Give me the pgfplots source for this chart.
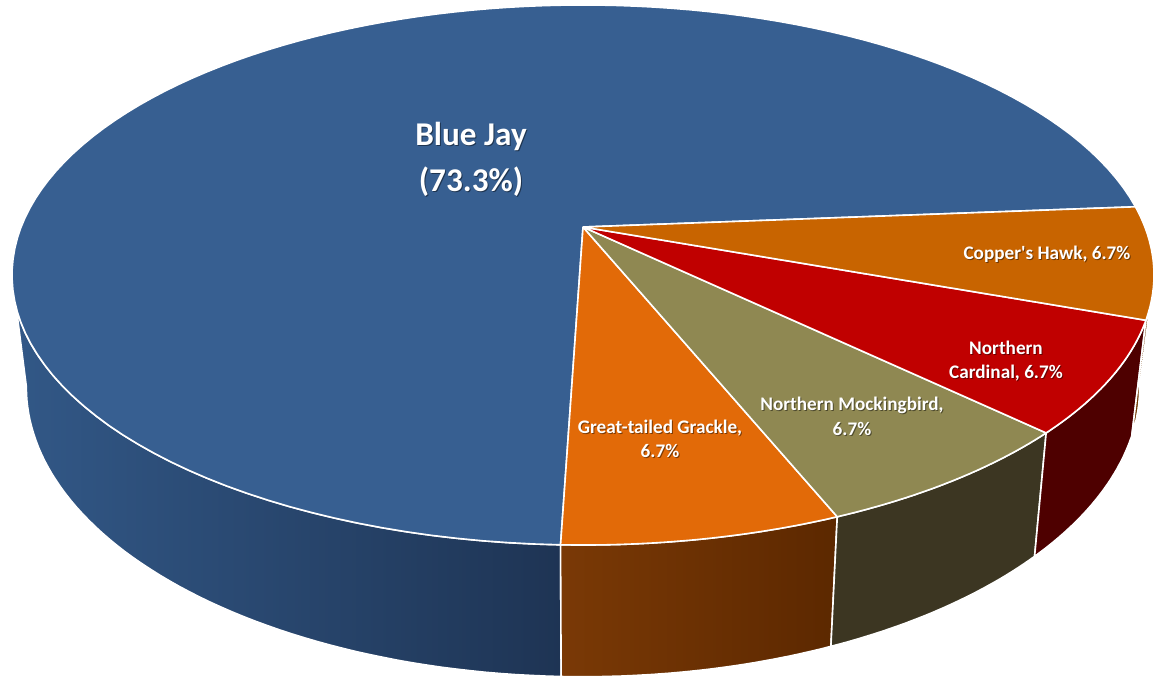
\documentclass[border=0pt]{standalone}
\usepackage{pgfplots}
\pgfplotsset{compat=1.18}
\usepackage{pgfplotstable}
\usepackage{fontspec}
\setmainfont{Carlito}

\pgfplotstableread{
species value
BlueJay 73.3
GreatTailedGrackle 6.7
NorthernMockingbird 6.7
NorthernCardinal 6.7
CoppersHawk 6.7
}\piedata

\pgfplotstablegetelem{0}{value}\of\piedata\let\vBJ\pgfplotsretval
\pgfplotstablegetelem{1}{value}\of\piedata\let\vGr\pgfplotsretval
\pgfplotstablegetelem{2}{value}\of\piedata\let\vMo\pgfplotsretval
\pgfplotstablegetelem{3}{value}\of\piedata\let\vCa\pgfplotsretval
\pgfplotstablegetelem{4}{value}\of\piedata\let\vCo\pgfplotsretval

\pgfmathsetmacro\T{\vBJ+\vGr+\vMo+\vCa+\vCo}
\pgfmathsetmacro\aS{4.5}
\pgfmathsetmacro\aCo{\aS-360*\vCo/\T}
\pgfmathsetmacro\aCa{\aCo-360*\vCa/\T}
\pgfmathsetmacro\aMo{\aCa-360*\vMo/\T}
\pgfmathsetmacro\aGr{\aMo-360*\vGr/\T}
\pgfmathsetmacro\aEnd{\aS-360}

\definecolor{bjTop}{RGB}{55,95,145}
\definecolor{coTop}{RGB}{200,100,0}
\definecolor{caTop}{RGB}{192,0,0}
\definecolor{moTop}{RGB}{143,136,82}
\definecolor{grTop}{RGB}{226,106,8}
\definecolor{bjSideL}{RGB}{50,88,135}
\definecolor{bjSideR}{RGB}{30,52,84}
\definecolor{grSideL}{RGB}{122,57,6}
\definecolor{grSideR}{RGB}{92,40,0}
\definecolor{moSide}{RGB}{60,54,34}
\definecolor{caSide}{RGB}{78,0,0}
\definecolor{coSide}{RGB}{110,55,0}

% top face of a slice: colour, start angle, end angle
\newcommand\topslice[3]{%
 \addplot[fill=#1, draw=white, line width=0.8pt, line join=round, variable=\t,
   samples at={-1,0,1,...,120,121}]
 ({(\t<-0.5 || \t>120.5) ? 583 : PX(#2+(#3-#2)*\t/120)},
  {(\t<-0.5 || \t>120.5) ? 227 : PY(#2+(#3-#2)*\t/120)});
}
% side face of a slice: left colour, right colour, start angle, end angle
\newcommand\sideface[4]{%
 \addplot[left color=#1, right color=#2, draw=white, line width=0.8pt, line join=round, variable=\t,
   samples at={0,1,...,60,100,101,...,160,200}]
 ({(\t<80 || \t>180) ? PX((\t<80) ? (#3+(#4-#3)*\t/60) : #3) : BX(#4+(#3-#4)*(\t-100)/60)},
  {(\t<80 || \t>180) ? PY((\t<80) ? (#3+(#4-#3)*\t/60) : #3) : BY(#4+(#3-#4)*(\t-100)/60)});
}
\newcommand\lbl[4]{%
 \node[font=\fontsize{#3}{#3}\selectfont\bfseries, text=black, opacity=0.45, xshift=0.5pt, yshift=-0.5pt] at (axis cs:#1,#2) {#4};
 \node[font=\fontsize{#3}{#3}\selectfont\bfseries, text=white] at (axis cs:#1,#2) {#4};
}

\begin{document}
\begin{tikzpicture}
\begin{axis}[
  width=577.5pt, height=338.5pt, scale only axis,
  xmin=0, xmax=1155, ymin=0, ymax=677, y dir=reverse,
  axis lines=none, clip=false,
  declare function={
    sA(\x)=1/(1+0.1777*sin(\x));
    PX(\x)=583+561.9*cos(\x)*sA(\x);
    PY(\x)=227-261.5*sin(\x)*sA(\x);
    BX(\x)=583+0.975*561.9*cos(\x)*sA(\x);
    BY(\x)=PY(\x)+108.3*sA(\x);
  },
]
\addplot[draw=none] coordinates {(0,0) (1155,677)};
% sides
\sideface{bjSideL}{bjSideR}{-169.8}{\aGr}
\sideface{grSideL}{grSideR}{\aGr}{\aMo}
\sideface{moSide}{moSide}{\aMo}{\aCa}
\sideface{caSide}{caSide}{\aCa}{\aCo}
\sideface{coSide}{coSide}{\aCo}{-10.2}
% tops
\topslice{bjTop}{\aGr}{\aEnd}
\topslice{grTop}{\aMo}{\aGr}
\topslice{moTop}{\aCa}{\aMo}
\topslice{caTop}{\aCo}{\aCa}
\topslice{coTop}{\aS}{\aCo}
% labels
\lbl{471}{136}{16.6}{Blue Jay}
\lbl{471}{182}{16.6}{(73.3\%)}
\lbl{1047}{254}{9.6}{Copper\textquotesingle s Hawk, 6.7\%}
\lbl{1006}{348}{9.6}{Northern}
\lbl{1006}{373}{9.6}{Cardinal, 6.7\%}
\lbl{852}{405}{9.6}{Northern Mockingbird,}
\lbl{852}{429}{9.6}{6.7\%}
\lbl{660}{428}{9.6}{Great-tailed Grackle,}
\lbl{660}{451}{9.6}{6.7\%}
\end{axis}
\end{tikzpicture}
\end{document}
